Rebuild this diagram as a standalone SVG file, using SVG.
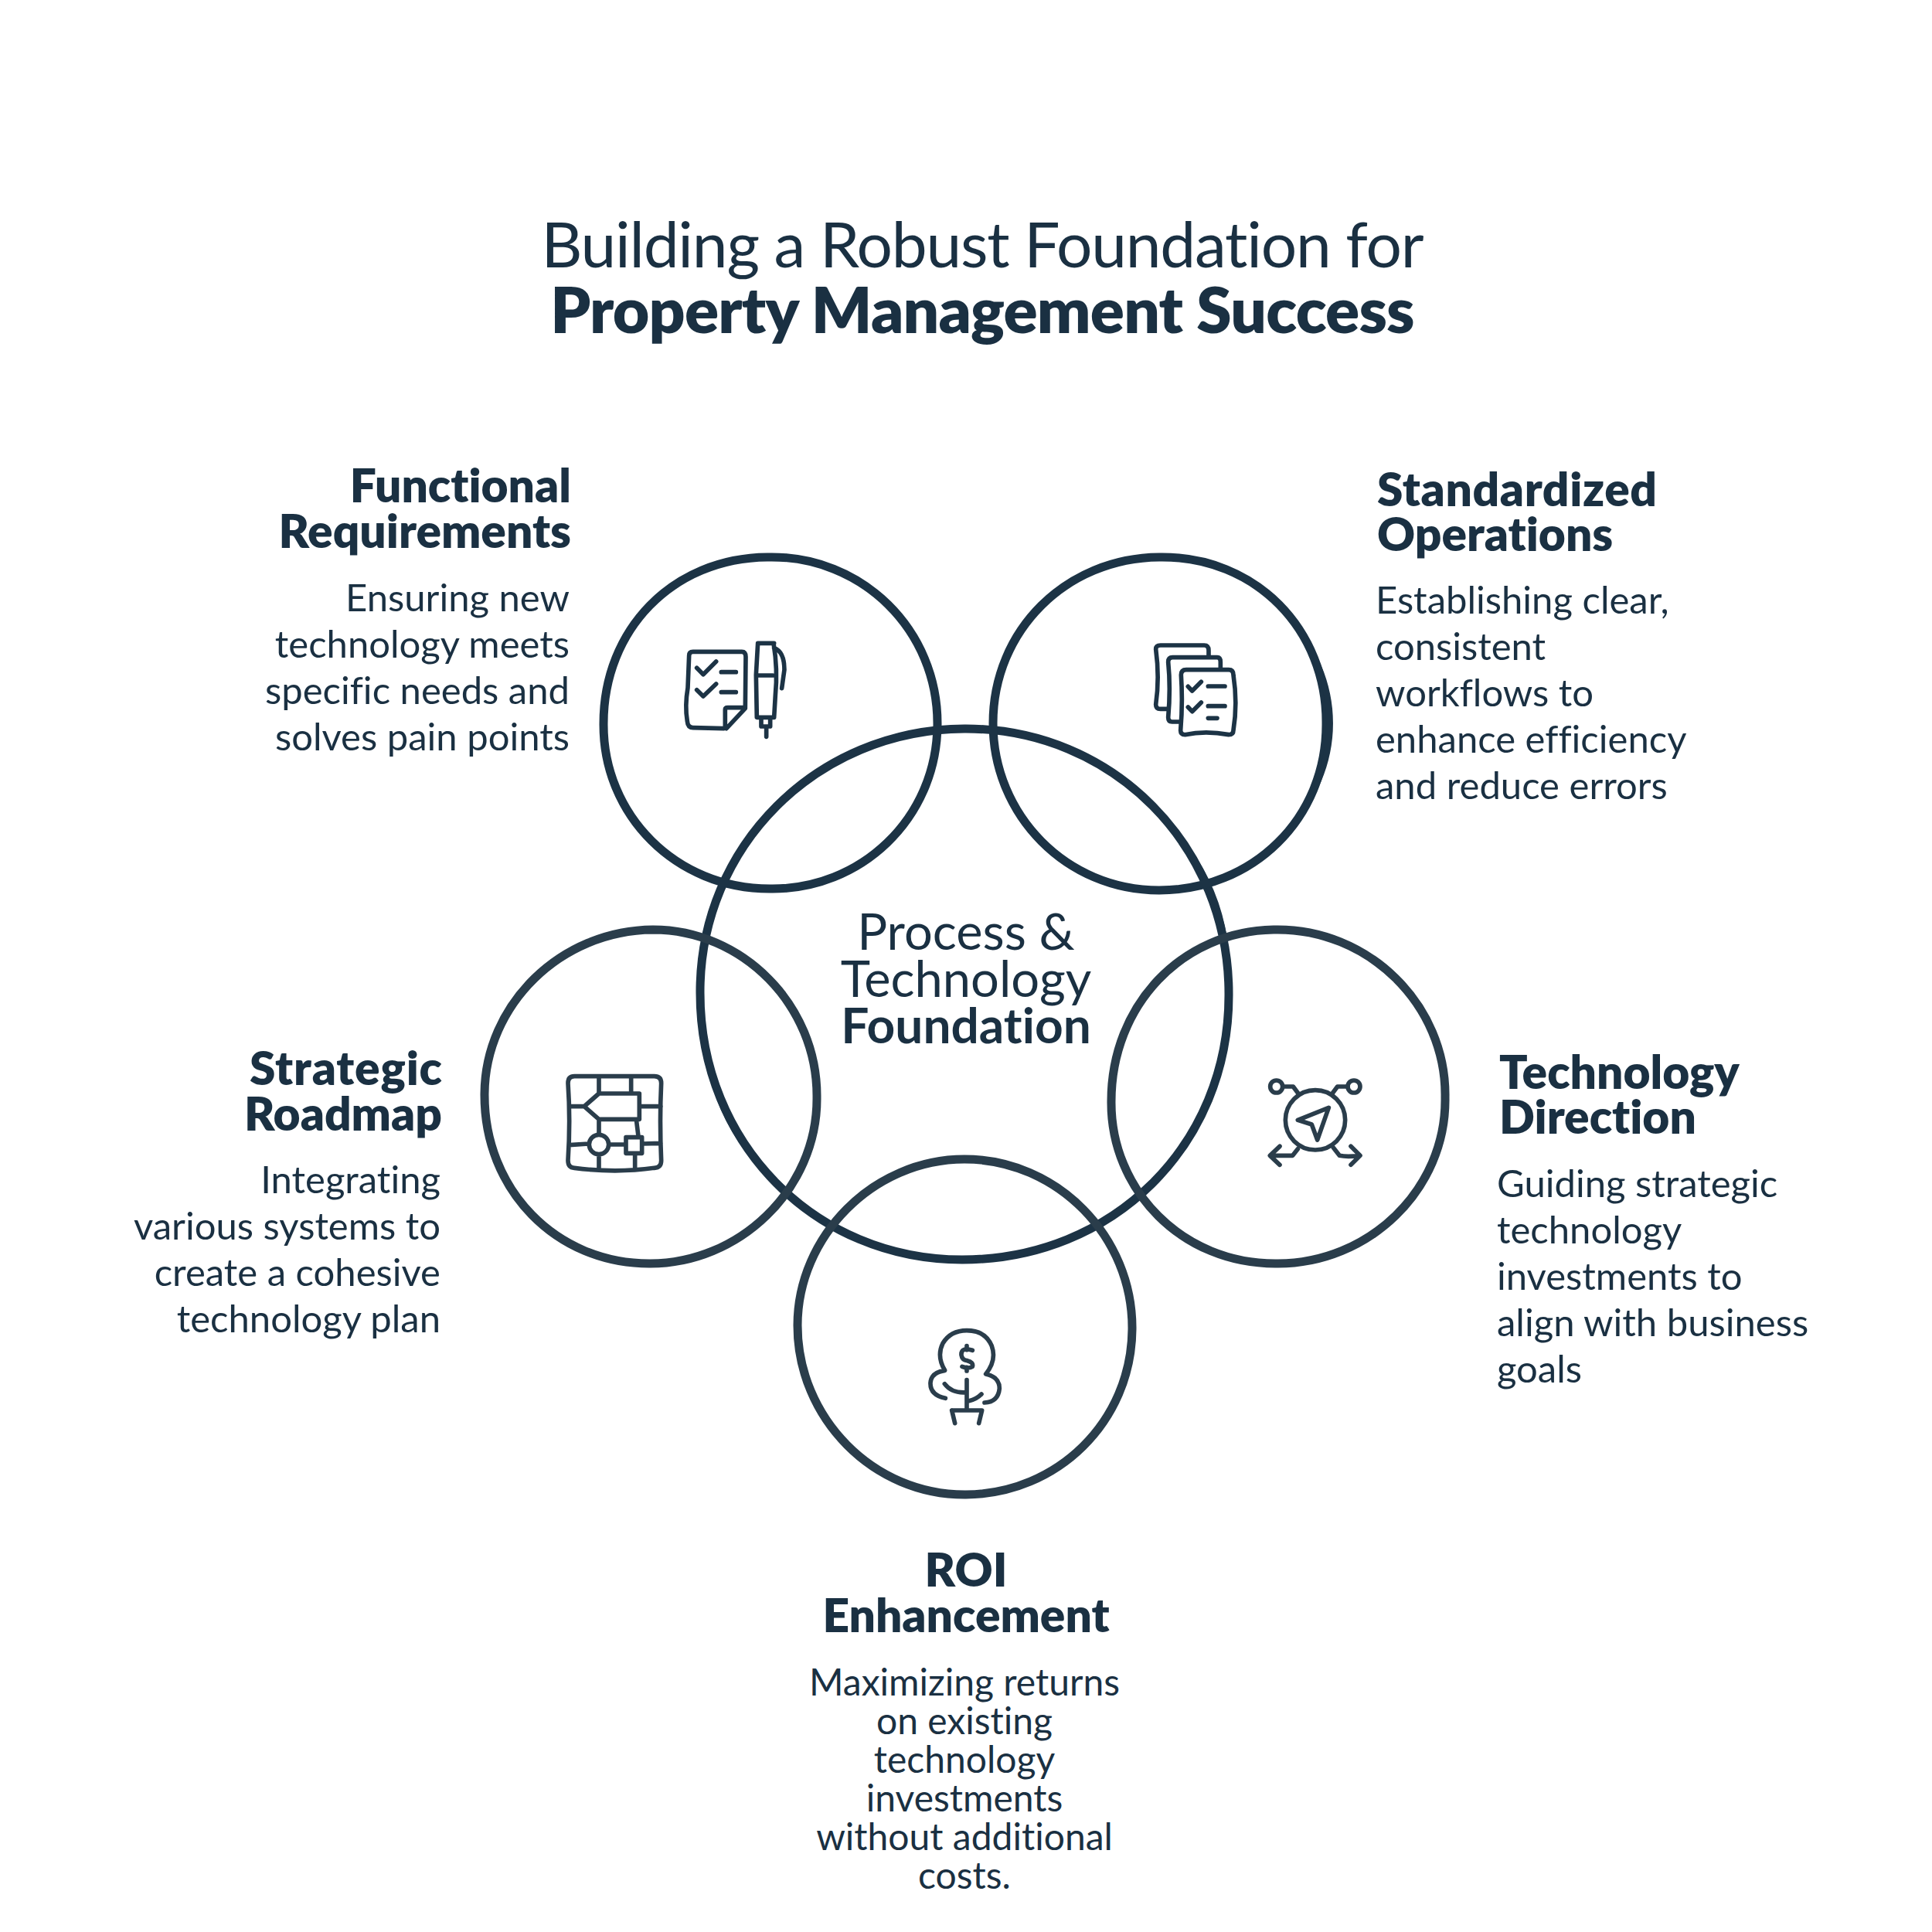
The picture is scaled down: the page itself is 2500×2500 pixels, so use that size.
<svg xmlns="http://www.w3.org/2000/svg" width="2500" height="2500" viewBox="0 0 2500 2500">
<style>
text{font-family:Lato,"Noto Sans",sans-serif;fill:#1a3042;font-variant-ligatures:none}
.t{font-size:82px;letter-spacing:-1.2px}.b{font-weight:800;letter-spacing:-.8px}
.h{font-size:60.4px;font-weight:800}
.p{font-size:49px}.q{font-size:48px}
.c{font-size:65px}
.e{text-anchor:end}.m{text-anchor:middle}
.r{fill:none;stroke:#1c3345;stroke-width:11;stroke-linecap:round}
.s{stroke:#2a3d4b}
.f{fill:#1c3345}
.i{fill:none;stroke:#1c3345;stroke-width:17;stroke-linecap:round;stroke-linejoin:round}
.j{stroke:#2a3d4b}
</style>
<rect width="2500" height="2500" fill="#fff"/>
<g id="title"><text class="t m" x="1271" y="346">Building a Robust Foundation for</text><text class="t m b" x="1271" y="431">Property Management Success</text></g>
<g id="node-center"><path class="r" d="M1248 943C1440 942 1591 1095 1590 1288C1590 1482 1440 1630 1245 1630C1055 1630 906 1480 906 1285C905 1095 1057 944 1248 943Z"/><path class="f" d="M1494 1048A342 342 0 0 1 1590 1280A269.500 269.500 0 0 0 1494 1048Z"/><path class="f" d="M913 1354A342 342 0 0 0 1022 1543A248 248 0 0 1 913 1354Z"/>
<text class="c m" x="1250" y="1229">Process &amp;</text><text class="c m" x="1250" y="1290">Technology</text><text class="c m b" style="font-size:64px;font-weight:700;letter-spacing:0" x="1250" y="1350">Foundation</text></g>
<g id="node-functional"><path class="r" d="M993 721C1115 718 1214 815 1213 938C1212 1060 1113 1152 996 1150C875 1150 780 1055 781 936C781 815 870 722 993 721Z"/><path class="f" d="M925 733A215 215 0 0 1 1060 731A150 150 0 0 0 925 733Z"/>
<g class="i" transform="translate(850,800) scale(.3333)"><path d="M260 428L140 425Q120 425 118 400Q108 340 120 270L125 145Q125 130 140 130L330 130Q345 130 345 150L343 350L270 428M265 425V355Q265 347 275 347H343M155 193L180 218L230 168M155 278L180 303L230 255M250 209H307M250 287H307M392 97H455M392 97L385 220L388 385H455L460 300Q470 200 453 97M390 222H450M405 390V420H440V390M425 420V460M455 115Q495 130 495 200L485 272"/></g>
<text class="h e" x="739" y="650">Functional</text><text class="h e" x="739" y="709">Requirements</text>
<text class="p e" x="737" y="791">Ensuring new</text><text class="p e" x="737" y="851">technology meets</text><text class="p e" x="737" y="911">specific needs and</text><text class="p e" x="737" y="971">solves pain points</text></g>
<g id="node-standardized"><path class="r" d="M1500 721C1625 719 1717 815 1716 936C1717 1060 1620 1152 1500 1152C1380 1152 1285 1055 1285 936C1285 815 1380 722 1500 721Z"/><path class="f" d="M1666 798A215 215 0 0 1 1666 1074A191 191 0 0 0 1666 798Z"/>
<g class="i" transform="translate(1460,800) scale(.3333)"><path d="M150 352H125Q107 352 107 335Q122 230 107 120Q107 105 125 105L295 105Q312 105 312 125V150M195 402H170Q155 402 155 385Q165 270 155 170Q155 152 172 152H345Q358 152 358 170V198M205 220Q205 200 225 200H390Q408 200 408 220Q425 330 408 435Q408 452 390 452Q300 435 220 452Q203 452 203 435Q212 330 205 220ZM232 265L248 282L283 247M232 345L248 362L283 327M310 264H375M310 341H375M310 388H345"/></g>
<text class="h" x="1782" y="655" textLength="362">Standardized</text><text class="h" x="1782" y="713">Operations</text>
<text class="p" x="1780" y="794">Establishing clear,</text><text class="p" x="1780" y="854">consistent</text><text class="p" x="1780" y="914">workflows to</text><text class="p" x="1780" y="974">enhance efficiency</text><text class="p" x="1780" y="1034">and reduce errors</text></g>
<g id="node-roadmap"><path class="r s" d="M845 1203C960 1203 1058 1300 1057 1420C1058 1540 955 1636 840 1635C720 1635 626 1540 627 1415C628 1300 725 1204 845 1203Z"/>
<g class="i j" transform="translate(710,1370) scale(.3333)"><path d="M100 68H410Q437 68 437 95Q430 240 437 395Q437 422 410 424Q260 445 100 424Q75 422 75 395Q85 240 75 95Q75 68 100 68ZM195 70V135M320 70V135M195 135H352V235H195L138 185ZM138 185H80M352 185H435M195 235V295M340 235L348 300M80 335L155 330M233 333H298M365 330L435 328M195 372V425M335 368V425M300 305H362V367H300ZM233 333A38 38 0 1 1 157 333A38 38 0 1 1 233 333Z"/></g>
<text class="h e" x="572" y="1404" textLength="249">Strategic</text><text class="h e" x="572" y="1463">Roadmap</text>
<text class="p e" x="570" y="1544">Integrating</text><text class="p e" x="570" y="1604">various systems to</text><text class="p e" x="570" y="1664">create a cohesive</text><text class="p e" x="570" y="1724">technology plan</text></g>
<g id="node-direction"><path class="r s" d="M1648 1203C1770 1200 1872 1300 1870 1420C1872 1540 1770 1636 1652 1635C1530 1636 1437 1540 1438 1425C1438 1300 1530 1205 1648 1203Z"/>
<g class="i j" transform="translate(1620,1370) scale(.3333)"><circle cx="246" cy="238" r="116"/><circle cx="95" cy="108" r="24"/><circle cx="396" cy="108" r="24"/><path d="M120 108H160L180 135M372 108H332L312 135M298 190L178 238L232 255L254 315ZM178 350L158 376H72M108 340L70 376L108 412M316 345L340 376Q370 382 418 376M384 340L420 376L384 412"/></g>
<text class="h" x="1940" y="1409">Technology</text><text class="h" x="1940" y="1467">Direction</text>
<text class="p" x="1937" y="1549">Guiding strategic</text><text class="p" x="1937" y="1609">technology</text><text class="p" x="1937" y="1669">investments to</text><text class="p" x="1937" y="1729">align with business</text><text class="p" x="1937" y="1789">goals</text></g>
<g id="node-roi"><path class="r s" d="M1248 1500C1368 1500 1466 1600 1465 1720C1464 1840 1368 1933 1250 1934C1130 1935 1032 1835 1032 1715C1032 1600 1130 1500 1248 1500Z"/>
<g class="i j" transform="translate(1180,1690) scale(.3333)"><path d="M130 358Q70 345 72 298Q75 258 128 250Q95 195 120 145Q150 95 213 95Q285 95 310 155Q330 210 287 264Q340 275 340 320Q335 372 282 375M127 302Q155 340 213 335M213 287V405M222 368Q250 362 270 342M155 405H272L260 455M155 405L167 455M235 172Q190 158 192 190Q195 210 215 212Q240 218 235 235Q220 245 195 235M213 155V170M213 238V252"/></g>
<text class="h m" x="1250" y="2053">ROI</text><text class="h m" x="1250" y="2112">Enhancement</text>
<text class="q m" x="1248" y="2194">Maximizing returns</text><text class="q m" x="1248" y="2244">on existing</text><text class="q m" x="1248" y="2294">technology</text><text class="q m" x="1248" y="2344">investments</text><text class="q m" x="1248" y="2394">without additional</text><text class="q m" x="1248" y="2444">costs.</text></g>
</svg>
